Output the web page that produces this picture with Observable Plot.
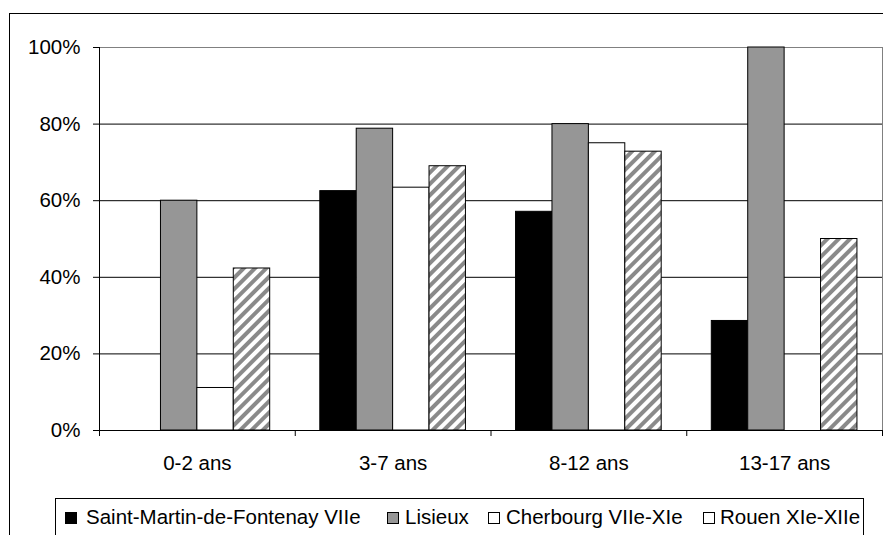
<!DOCTYPE html>
<html>
<head>
<meta charset="utf-8">
<script src="https://cdn.jsdelivr.net/npm/d3@7"></script>
<script src="https://cdn.jsdelivr.net/npm/@observablehq/plot@0.6"></script>
<style>
  html, body { margin: 0; padding: 0; background: #fff; }
  #wrap { position: relative; width: 883px; height: 535px; overflow: hidden; background: #fff;
          font-family: "Liberation Sans", Arial, sans-serif; }
  #frame { position: absolute; left: 9px; top: 13px; width: 900px; height: 600px; border: 1px solid #000; }
  #chart { position: absolute; left: 0; top: 0; }
  #legend { position: absolute; left: 55px; top: 498px; width: 807px; height: 60px; border: 1px solid #000; background: #fff; }
  .mk { position: absolute; top: 13px; width: 10px; height: 10px; border: 1px solid #000; }
  .lt { position: absolute; top: 6px; font-size: 20.5px; line-height: 24px; color: #000; white-space: nowrap; }
</style>
</head>
<body>
<div id="wrap">
  <div id="frame"></div>
  <div id="chart"></div>
  <div id="legend"></div>
</div>
<script>
const categories = ["0-2 ans", "3-7 ans", "8-12 ans", "13-17 ans"];
const seriesNames = ["Saint-Martin-de-Fontenay VIIe", "Lisieux", "Cherbourg VIIe-XIe", "Rouen XIe-XIIe"];
const saintMartin = [0, 62.5, 57.1, 28.6];
const lisieux = [60, 78.8, 80, 100];
const cherbourg = [11.1, 63.4, 75, 0];
const rouen = [42.3, 69, 72.8, 50];
const yTicks = [0, 20, 40, 60, 80, 100];

const seriesValues = [saintMartin, lisieux, cherbourg, rouen];
const fills = ["#000000", "#969696", "#ffffff", "url(#hatch)"];

// layout of a group inside one category slot (fractions of slot)
const gap = 0.128;
const bw = (1 - 2 * gap) / 4;

const rows = [];
seriesValues.forEach((vals, s) => {
  vals.forEach((v, i) => {
    rows.push({cat: categories[i], series: seriesNames[s], s, i, value: v,
               x1: i + gap + s * bw, x2: i + gap + (s + 1) * bw});
  });
});

const svg = Plot.plot({
  width: 883,
  height: 490,
  marginLeft: 99,
  marginRight: 1,
  marginTop: 47,
  marginBottom: 60,
  style: {fontFamily: "'Liberation Sans', Arial, sans-serif", fontSize: "20.5px", background: "transparent", color: "#000", overflow: "visible"},
  x: {domain: [0, categories.length], axis: null},
  y: {domain: [0, 100], axis: null},
  marks: [
    Plot.ruleY([20, 40, 60, 80], {x1: 0, x2: categories.length, stroke: "#000", strokeWidth: 1}),
    Plot.ruleY([100], {x1: 0, x2: categories.length, stroke: "#808080", strokeWidth: 1}),
    Plot.ruleX([categories.length], {y1: 0, y2: 100, stroke: "#808080", strokeWidth: 1}),
    ...[0, 1, 2, 3].map(s => Plot.rectY(rows.filter(d => d.s === s), {
      x1: "x1", x2: "x2", y1: 0, y2: "value",
      fill: fills[s], stroke: "#000", strokeWidth: 1
    })),
    Plot.ruleY([0], {x1: 0, x2: categories.length, stroke: "#000", strokeWidth: 1}),
    Plot.ruleX([0], {y1: 0, y2: 100, stroke: "#000", strokeWidth: 1}),
    Plot.axisY(yTicks, {anchor: "left", tickSize: 6, tickPadding: 13, tickFormat: d => d + "%", label: null, stroke: "#000", fill: "#000"}),
    Plot.axisX(d3.range(categories.length + 1), {anchor: "bottom", tickSize: 6, tickFormat: () => "", label: null, stroke: "#000"}),
    Plot.text(categories, {x: (d, i) => i + 0.5, y: 0, text: d => d, dy: 32.5, textAnchor: "middle", fill: "#000"})
  ]
});

// hatch pattern definition
const ns = "http://www.w3.org/2000/svg";
const defs = document.createElementNS(ns, "defs");
defs.innerHTML = '<pattern id="hatch" patternUnits="userSpaceOnUse" width="8" height="8" patternTransform="rotate(45)">' +
  '<rect x="0" y="0" width="8" height="8" fill="#ffffff"></rect>' +
  '<rect x="0" y="0" width="4" height="8" fill="#8a8a8a"></rect></pattern>';
svg.insertBefore(defs, svg.firstChild);
document.getElementById("chart").appendChild(svg);

// legend
const legend = document.getElementById("legend");
const markerLeft = [9, 331, 432, 647];
const textLeft = [30, 349, 450, 664];
const legendFills = ["#000000", "#969696", "#ffffff", "#ffffff"];
seriesNames.forEach((name, k) => {
  const m = document.createElement("div");
  m.className = "mk";
  m.style.left = markerLeft[k] + "px";
  m.style.background = legendFills[k];
  legend.appendChild(m);
  const t = document.createElement("div");
  t.className = "lt";
  t.style.left = textLeft[k] + "px";
  t.textContent = name;
  legend.appendChild(t);
});
</script>
</body>
</html>
